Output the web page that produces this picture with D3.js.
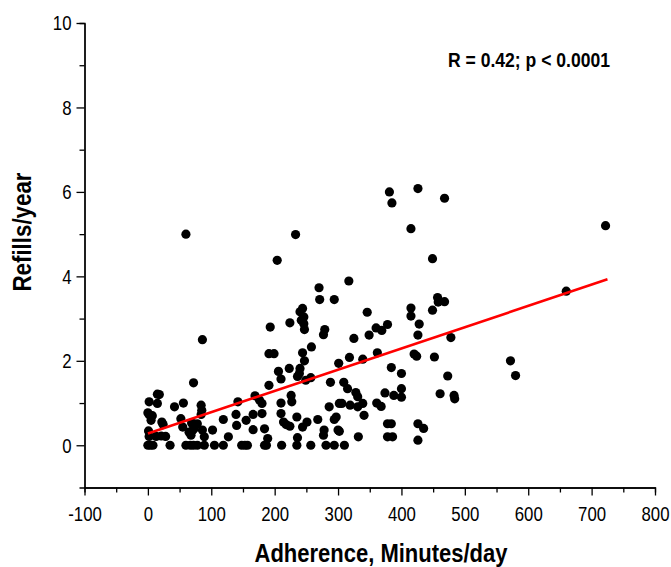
<!DOCTYPE html>
<html>
<head>
<meta charset="utf-8">
<script src="https://cdn.jsdelivr.net/npm/d3@7"></script>
<style>
  body { margin: 0; background: #fff; }
  text { font-family: "Liberation Sans", Arial, sans-serif; }
</style>
</head>
<body>
<div id="chart"></div>
<script>
// adherence (minutes/day) and refills/year
const adherence = [
  2, 15, 18, 15, 0, 2, 7, 5, 22, 24, 1, 2, 13, 21, 28, 42, 56, 52, 55, 65, 68, 71, 72, 78, 69, 73, 72, 84, 85, 84, 86, 89, 60, 86,
  0, 4, 8, 35, 60, 67, 72, 78, 89, 105, 119, 148, 153, 157, 184, 187, 211, 235, 257, 281, 294, 310,
  102, 119, 127, 139, 140, 142, 155, 166, 166, 169, 176, 180, 180, 184, 189, 191,
  204, 233, 193, 191, 199, 224, 242, 244, 240, 246, 246, 247, 270, 271, 294, 279, 277, 258, 244, 247, 223, 206, 240, 239, 236,
  210, 249, 257, 288, 210, 226, 227, 210, 214, 218, 224, 235, 236, 244, 251, 268, 278, 277, 286, 294, 297, 300, 302,
  317, 346, 301, 339, 318, 325, 349, 360, 369, 378, 381, 426, 385, 468, 415, 449, 457, 458, 468, 415, 415, 449, 428, 426, 478,
  362, 420, 424, 452, 384, 400, 473, 400, 400, 374, 388, 461, 483, 484, 309, 315, 328, 331, 306, 319, 331, 339, 341, 361, 368,
  378, 384, 378, 386, 426, 435, 426, 302, 332,
  572, 580, 660, 722
];
const refills = [
  1.03, 1.21, 1.2, 0.99, 0.77, 0.72, 0.7, 0.59, 0.55, 0.49, 0.34, 0.21, 0.21, 0.22, 0.21, 0.91, 1.0, 0.63, 0.43, 0.31, 0.24, 0.36, 0.51, 0.51, 0.53, 0.4, 1.48, 0.95, 0.83, 0.73, 0.36, 0.2, 5.0, 2.5,
  0, 0, 0, 0, 0, 0, 0, 0, 0, 0, 0, 0, 0, 0, 0, 0, 0, 0, 0, 0, 0, 0,
  0.36, 0.61, 0.2, 0.73, 0.47, 1.03, 0.59, 0.37, 0.73, 1.17, 1.07, 0.99, 0.75, 0.39, 0.16, 1.42,
  4.38, 4.99, 2.8, 2.17, 2.17, 2.9, 2.96, 3.24, 3.16, 3.04, 2.88, 2.74, 3.73, 3.45, 3.45, 2.74, 2.62, 2.33, 2.19, 2.0, 1.82, 1.75, 1.82, 1.7, 1.63,
  1.57, 1.54, 1.6, 1.49, 1.0, 1.18, 1.03, 0.75, 0.55, 0.49, 0.45, 0.67, 0.18, 0.43, 0.55, 0.61, 0.36, 0.24, 0.91, 0.61, 0.67, 0.36, 0.99,
  3.89, 3.15, 1.94, 2.04, 2.08, 2.53, 2.61, 2.78, 2.72, 2.86, 6.0, 6.08, 5.74, 5.85, 5.13, 4.42, 3.5, 3.39, 3.4, 3.25, 3.06, 3.2, 2.87, 2.61, 2.55,
  2.19, 2.16, 2.11, 2.09, 1.84, 1.7, 1.64, 1.34, 1.14, 1.24, 1.18, 1.22, 1.18, 1.1, 1.49, 1.34, 1.25, 1.15, 0.99, 0.95, 0.91, 0.99, 0.71, 1.0, 0.92,
  0.51, 0.51, 0.2, 0.2, 0.51, 0.4, 0.12, 0.33, 0.2,
  2.0, 1.65, 3.65, 5.2
];

// regression line end points
const fitX = [0, 725];
const fitY = [0.28, 3.93];

const xTicks = [-100, 0, 100, 200, 300, 400, 500, 600, 700, 800];
const xMinorTicks = [-50, 50, 150, 250, 350, 450, 550, 650, 750];
const yTicks = [0, 2, 4, 6, 8, 10];
const yMinorTicks = [1, 3, 5, 7, 9];

const annotation = "R = 0.42; p < 0.0001";
const xTitle = "Adherence, Minutes/day";
const yTitle = "Refills/year";

class ScatterVis {
  constructor(parentElement) {
    this.parentElement = parentElement;
    this.displayData = adherence.map((d, i) => ({ x: d, y: refills[i] }));
    this.initVis();
  }

  initVis() {
    let vis = this;

    vis.width = 671;
    vis.height = 567;

    vis.svg = d3
      .select("#" + vis.parentElement)
      .append("svg")
      .attr("width", vis.width)
      .attr("height", vis.height);

    // scales
    vis.x = d3.scaleLinear().domain([-100, 800]).range([84.5, 655]);
    vis.y = d3.scaleLinear().domain([-1, 10]).range([487.5, 23]);

    // plain hyphen for negatives, like the original
    let fmt = (d) => String(d);

    // minor ticks underneath
    vis.svg
      .append("g")
      .attr("class", "x-minor")
      .attr("transform", `translate(0, ${vis.y(-1)})`)
      .call(d3.axisBottom(vis.x).tickValues(xMinorTicks).tickSize(5).tickFormat(""));

    vis.svg
      .append("g")
      .attr("class", "y-minor")
      .attr("transform", `translate(${vis.x(-100)}, 0)`)
      .call(d3.axisLeft(vis.y).tickValues(yMinorTicks).tickSize(5).tickFormat(""));

    vis.xAxis = vis.svg
      .append("g")
      .attr("class", "x-axis")
      .attr("transform", `translate(0, ${vis.y(-1)})`)
      .call(d3.axisBottom(vis.x).tickValues(xTicks).tickFormat(fmt).tickSize(8).tickSizeOuter(0).tickPadding(11));

    vis.yAxis = vis.svg
      .append("g")
      .attr("class", "y-axis")
      .attr("transform", `translate(${vis.x(-100)}, 0)`)
      .call(d3.axisLeft(vis.y).tickValues(yTicks).tickSize(8).tickSizeOuter(0));

    vis.svg.selectAll(".domain, .tick line").attr("stroke", "#000").attr("stroke-width", 1.3);

    // condensed look: squeeze glyphs horizontally
    vis.xAxis.selectAll("text").attr("fill", "#000").style("font-size", "21px").attr("transform", "scale(0.8, 1)");
    vis.yAxis
      .selectAll("text")
      .attr("fill", "#000")
      .style("font-size", "21px")
      .attr("x", 0)
      .attr("transform", "translate(-13, 0) scale(0.8, 1)");

    // titles
    vis.svg
      .append("text")
      .attr("x", 381)
      .attr("y", 562)
      .attr("text-anchor", "middle")
      .attr("textLength", 253)
      .attr("lengthAdjust", "spacingAndGlyphs")
      .style("font-size", "25px")
      .style("font-weight", "bold")
      .text(xTitle);

    vis.svg
      .append("text")
      .attr("transform", "translate(31, 232) rotate(-90)")
      .attr("text-anchor", "middle")
      .attr("textLength", 119)
      .attr("lengthAdjust", "spacingAndGlyphs")
      .style("font-size", "25px")
      .style("font-weight", "bold")
      .text(yTitle);

    vis.svg
      .append("text")
      .attr("x", 448)
      .attr("y", 67)
      .attr("textLength", 162)
      .attr("lengthAdjust", "spacingAndGlyphs")
      .style("font-size", "21px")
      .style("font-weight", "bold")
      .text(annotation);

    vis.updateVis();
  }

  updateVis() {
    let vis = this;

    vis.svg
      .append("g")
      .attr("class", "dots")
      .selectAll("circle")
      .data(vis.displayData)
      .enter()
      .append("circle")
      .attr("cx", (d) => vis.x(d.x))
      .attr("cy", (d) => vis.y(d.y))
      .attr("r", 4.6)
      .attr("fill", "#000");

    // fitted line
    vis.svg
      .append("path")
      .datum(fitX.map((d, i) => [d, fitY[i]]))
      .attr("fill", "none")
      .attr("stroke", "#ff0000")
      .attr("stroke-width", 2.6)
      .attr("d", d3.line().x((d) => vis.x(d[0])).y((d) => vis.y(d[1])));
  }
}

let scatterVis = new ScatterVis("chart");
</script>
</body>
</html>
